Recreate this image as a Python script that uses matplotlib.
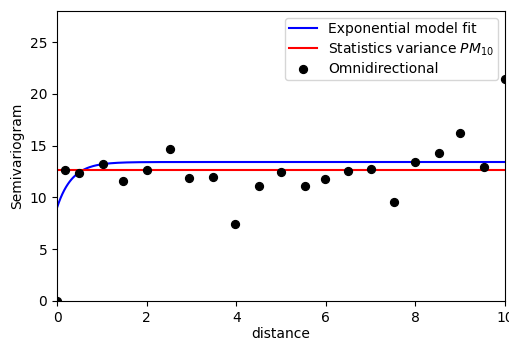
import numpy as np
import matplotlib
matplotlib.use("Agg")
import matplotlib.pyplot as plt

# Empirical semivariogram (omnidirectional)
lags = [0.0, 0.18, 0.5, 1.02, 1.48, 2.02, 2.52, 2.95, 3.49, 3.97, 4.52, 5.0,
        5.53, 5.99, 6.49, 7.0, 7.52, 7.98, 8.53, 9.0, 9.53, 10.0]
gamma = [0.0, 12.64, 12.4, 13.25, 11.55, 12.64, 14.64, 11.84, 11.94, 7.4, 11.1, 12.48,
         11.13, 11.78, 12.58, 12.77, 9.58, 13.45, 14.29, 16.2, 12.93, 21.4]

# Exponential model parameters
nugget = 9.0
psill = 4.42
model_range = 1.0

# Sample variance of PM10
variance = 12.64

fig = plt.figure(figsize=(5.09, 3.42), dpi=100)
ax = fig.add_axes([57/509, 1 - 301/342, (505 - 57)/509, (301 - 11)/342])

h = np.linspace(0, 10, 500)
model = nugget + psill * (1 - np.exp(-3 * h / model_range))
ax.plot(h, model, color="blue", lw=1.5, label="Exponential model fit")
ax.axhline(variance, color="red", lw=1.5, label="Statistics variance $PM_{10}$")
ax.scatter(lags, gamma, color="black", s=32, label="Omnidirectional", zorder=3)

ax.set_xlim(0, 10)
ax.set_ylim(0, 28)
ax.set_xticks([0, 2, 4, 6, 8, 10])
ax.set_yticks([0, 5, 10, 15, 20, 25])
ax.set_xlabel("distance", labelpad=2)
ax.set_ylabel("Semivariogram")
ax.legend(loc="upper right", labelspacing=0.3, borderpad=0.3)

fig.savefig("out.png", dpi=100)
